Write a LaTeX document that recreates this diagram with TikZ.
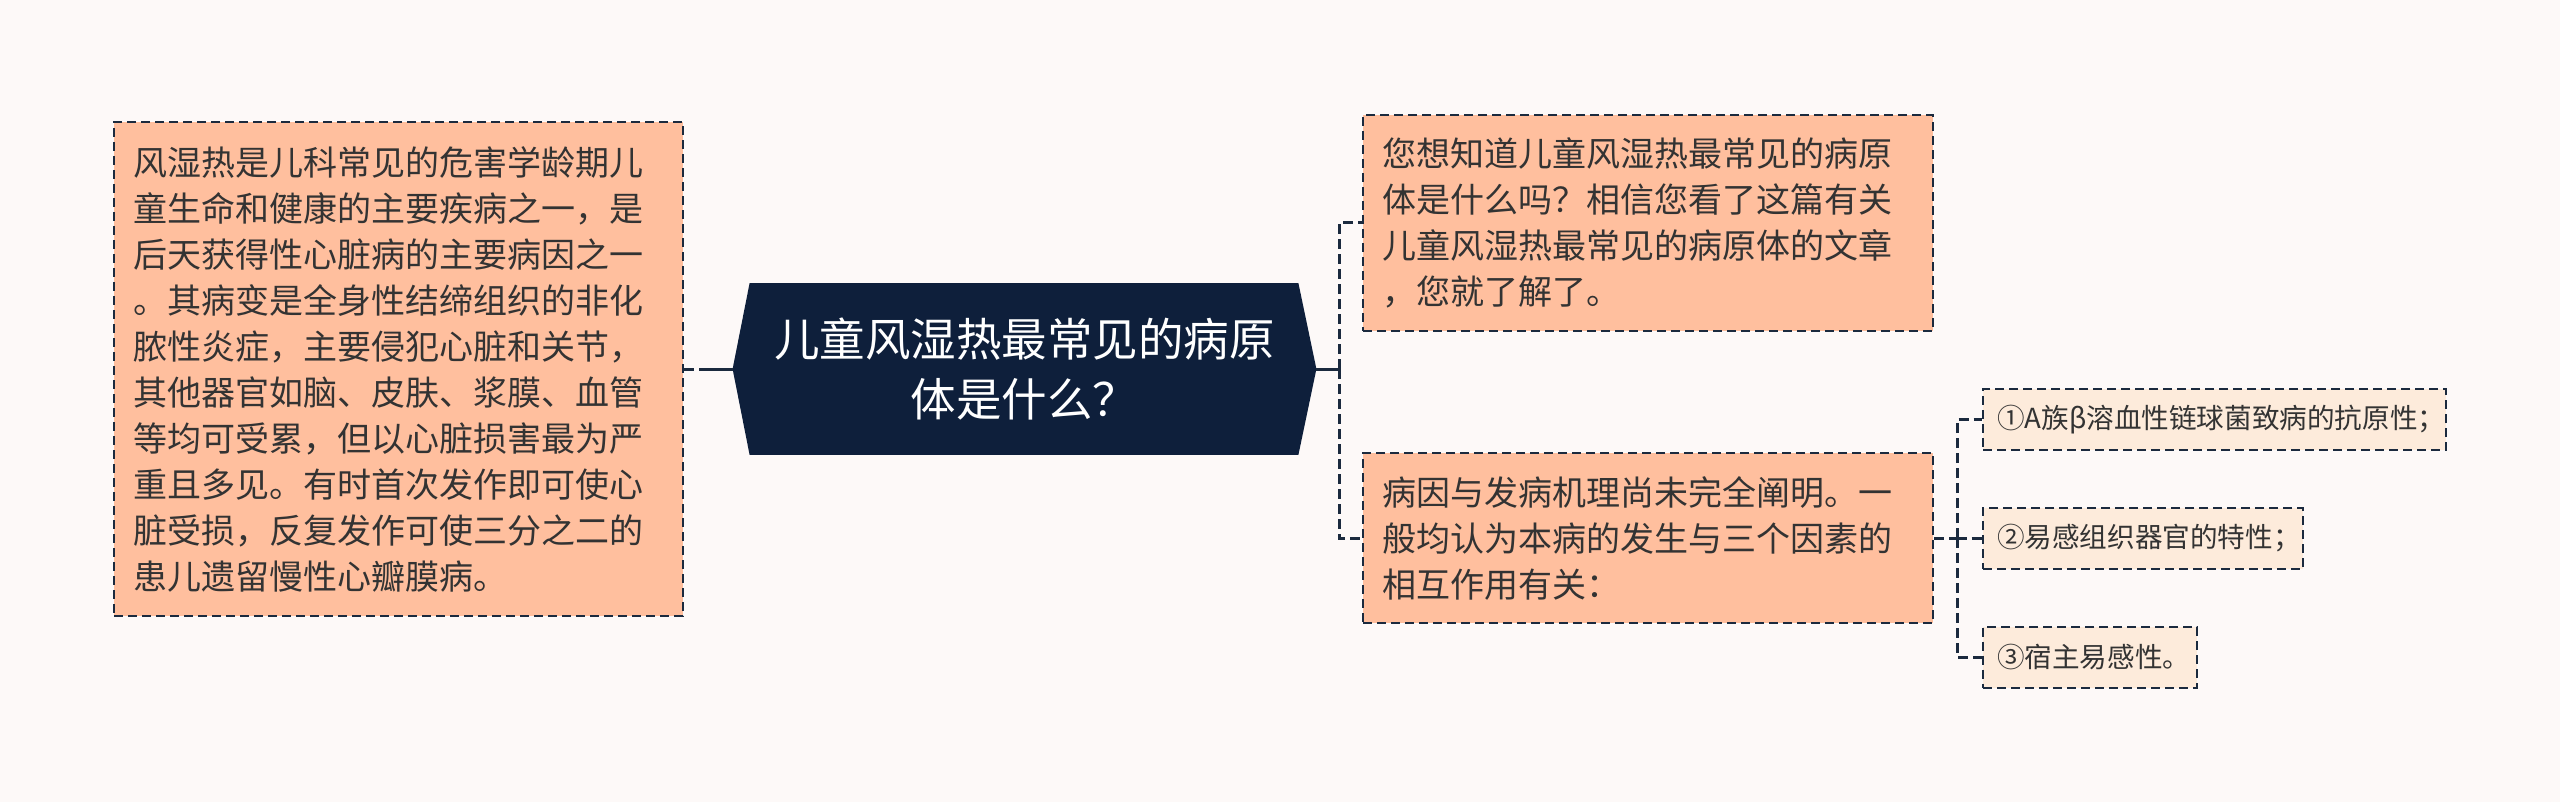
\documentclass[tikz,border=0pt]{standalone}
\usepackage{fontspec}
\newfontfamily\cjk{Noto Sans CJK SC}
\usetikzlibrary{calc,backgrounds}
\definecolor{bg}{HTML}{FDF9F8}
\definecolor{salmon}{HTML}{FFBF9E}
\definecolor{peach}{HTML}{FDEBDB}
\definecolor{navy}{HTML}{0E1F3B}
\definecolor{edgec}{HTML}{1B2A3E}
\definecolor{txt}{HTML}{333333}
\begin{document}
\begin{tikzpicture}[x=0.5pt,y=-0.5pt,
  bigbox/.style={draw=edgec, line width=1pt, dash pattern=on 4.5pt off 2.5pt, fill=salmon, text=txt,
    font=\cjk\fontsize{17pt}{23pt}\selectfont, align=left, inner xsep=9.5pt, inner ysep=0pt},
  smallbox/.style={draw=edgec, line width=1pt, dash pattern=on 4.5pt off 2.5pt, fill=peach, text=txt,
    font=\cjk\fontsize{13.8pt}{18pt}\selectfont, align=left, inner xsep=7pt, inner ysep=0pt, minimum height=30.5pt},
  conn/.style={draw=edgec, line width=1.5pt, dash pattern=on 5pt off 2.5pt},
  stub/.style={draw=edgec, line width=1.5pt},
  mainnode/.style={text=white, font=\cjk\fontsize{22.75pt}{30pt}\selectfont, align=center, inner sep=0pt,
    minimum width=291.5pt, minimum height=85.5pt}
]
\useasboundingbox (0,0) rectangle (2560,802);

% central node
\node[mainnode] (c) at (1024.5,369) {儿童风湿热最常见的病原\\体是什么？};
\begin{pgfonlayer}{background}
\fill[bg] (0,0) rectangle (2560,802);
\fill[navy] (c.west) -- ($(c.north west)+(17,0)$) -- ($(c.north east)+(-18,0)$) -- (c.east)
  -- ($(c.south east)+(-18,0)$) -- ($(c.south west)+(17,0)$) -- cycle;
\end{pgfonlayer}

% left box
\node[bigbox, text width=265.5pt, minimum height=247pt] (lbox) at (398.5,369) {风湿热是儿科常见的危害学龄期儿\\童生命和健康的主要疾病之一，是\\后天获得性心脏病的主要病因之一\\。其病变是全身性结缔组织的非化\\脓性炎症，主要侵犯心脏和关节，\\其他器官如脑、皮肤、浆膜、血管\\等均可受累，但以心脏损害最为严\\重且多见。有时首次发作即可使心\\脏受损，反复发作可使三分之二的\\患儿遗留慢性心瓣膜病。};

% right boxes
\node[bigbox, text width=266pt, minimum height=108pt] (tbox) at (1648,223) {您想知道儿童风湿热最常见的病原\\体是什么吗？相信您看了这篇有关\\儿童风湿热最常见的病原体的文章\\，您就了解了。};
\node[bigbox, text width=266pt, minimum height=85pt] (bbox) at (1648,538) {病因与发病机理尚未完全阐明。一\\般均认为本病的发生与三个因素的\\相互作用有关：};

% small boxes
\node[smallbox, text width=217.5pt] (s1) at (2214.5,419.5) {①A族β溶血性链球菌致病的抗原性；};
\node[smallbox, text width=146pt] (s2) at (2143,538.5) {②易感组织器官的特性；};
\node[smallbox, text width=93pt] (s3) at (2090,657) {③宿主易感性。};

% connectors
\coordinate (lstub) at (699,369);
\coordinate (rj) at (1339,369);
\coordinate (sj) at (1957,538);
\draw[conn] (lbox.east) -- (lstub);
\draw[stub] (lstub) -- (c.west);
\draw[stub] (c.east) -- (rj);
\draw[conn] (rj) |- (tbox.west);
\draw[conn] (rj) |- (bbox.west);
\draw[conn] (bbox.east) -- (sj);
\draw[conn] (sj) |- (s1.west);
\draw[conn] (sj) |- (s2.west);
\draw[conn] (sj) |- (s3.west);
\end{tikzpicture}
\end{document}
